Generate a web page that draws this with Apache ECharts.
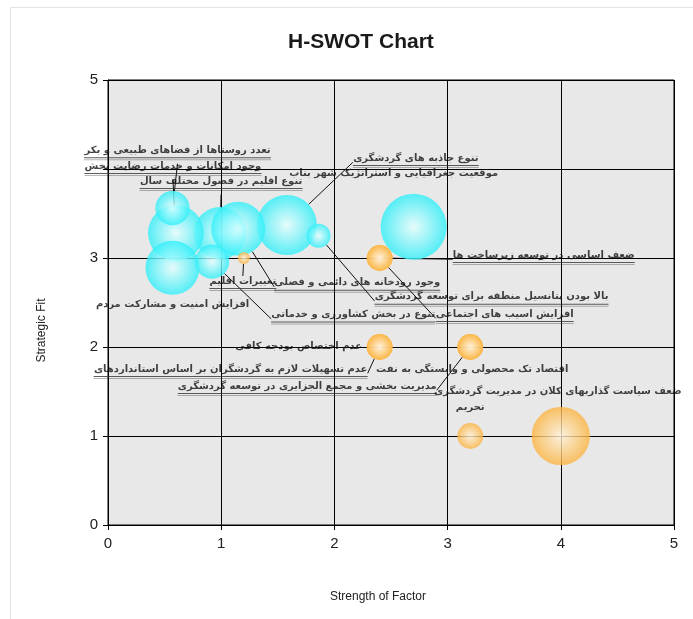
<!DOCTYPE html>
<html>
<head>
<meta charset="utf-8">
<title>H-SWOT Chart</title>
<script src="https://cdn.jsdelivr.net/npm/echarts@6/dist/echarts.min.js"></script>
<style>
html, body { margin: 0; padding: 0; background: #fff; }
#chart { width: 693px; height: 619px; }
</style>
</head>
<body>
<div id="chart"></div>
<script>
// نقاط قوت و فرصت ها (حباب های آبی)
var strengthNames = [
    'موقعیت جغرافیایی و استراتژیک شهر بناب',
    'تنوع جاذبه های گردشگری',
    'تنوع اقلیم در فصول مختلف سال',
    'وجود امکانات و خدمات رضایت بخش',
    'تعدد روستاها از فضاهای طبیعی و بکر',
    'افزایش امنیت و مشارکت مردم',
    'تنوع در بخش کشاورزی و خدماتی',
    'بالا بودن پتانسیل منطقه برای توسعه گردشگری',
    'وجود رودخانه های دائمی و فصلی'
];
var strengthX = [2.7, 1.58, 0.99, 0.6, 0.57, 0.57, 0.92, 1.86, 1.15];
var strengthY = [3.35, 3.37, 3.28, 3.28, 3.56, 2.89, 2.96, 3.25, 3.33];
var strengthSize = [11, 10, 8.7, 9.3, 5.7, 9, 5.7, 4, 9];

// نقاط ضعف و تهدید ها (حباب های نارنجی)
var weakNames = [
    'ضعف اساسی در توسعه زیرساخت ها',
    'افزایش اسیب های اجتماعی',
    'تغییرات اقلیم',
    'عدم اختصاص بودجه کافی',
    'عدم تسهیلات لازم به گردشگران بر اساس استانداردهای',
    'اقتصاد تک محصولی و وابستگی به نفت',
    'مدیریت بخشی و مجمع الجزایری در توسعه گردشگری',
    'تحریم',
    'ضعف سیاست گذاریهای کلان در مدیریت گردشگری'
];
var weakX = [2.4, 2.4, 1.2, 2.4, 2.4, 3.2, 3.2, 3.2, 4];
var weakY = [3, 3, 3, 2, 2, 2, 2, 1, 1];
var weakSize = [4.3, 4.3, 2, 4.3, 4.3, 4.3, 4.3, 4.3, 9.7];

var xTicks = ['0', '1', '2', '3', '4', '5'];
var yTicks = ['0', '1', '2', '3', '', '5'];

// جای برچسب ها نسبت به حباب (پیکسل) و خط راهنما
var strengthLabelOffset = [[-20, -53], [129, -66], [1, -51], [-3, -66], [5, -57], [0, 37], [141, 54], [173, 62], [119, 55]];
var strengthLabelLine = [false, true, true, true, true, false, true, true, true];
var weakLabelOffset = [[164, -2], [125, 57], [-1, 24], [-81, -1], [-149, 23], [2, 22], [-163, 40], [0, -29], [-3, -45]];
var weakLabelLine = [true, true, true, false, true, false, true, false, false];

var labelFont = 'bold 10px "DejaVu Sans"';
var measureCtx = document.createElement('canvas').getContext('2d');
measureCtx.font = labelFont;

function buildData(names, xs, ys, sizes, lines) {
    return names.map(function (n, i) {
        var w = Math.ceil(measureCtx.measureText(n).width);
        return {
            name: n,
            value: [xs[i], ys[i], sizes[i]],
            labelLine: { show: lines[i] },
            label: {
                formatter: lines[i] ? '{t|' + n + '}\n{u|}' : '{t|' + n + '}',
                rich: {
                    t: {
                        fontFamily: 'DejaVu Sans',
                        fontWeight: 'bold',
                        fontSize: 10,
                        color: '#111',
                        lineHeight: 13
                    },
                    u: {
                        width: w,
                        height: 1,
                        lineHeight: 2,
                        backgroundColor: '#333',
                        shadowColor: 'rgba(0,0,0,0.35)',
                        shadowOffsetY: 2
                    }
                }
            }
        };
    });
}

var dom = document.getElementById('chart');
var myChart = echarts.init(dom, null, {
    renderer: 'canvas',
    useDirtyRect: false
});

var option = {
    animation: false,
    title: {
        text: 'H-SWOT Chart',
        left: 283,
        top: 27,
        textStyle: {
            fontFamily: 'Liberation Sans',
            fontSize: 21,
            fontWeight: 'bold',
            color: '#1a1a1a'
        }
    },
    graphic: [{
        type: 'rect',
        shape: { x: 10.5, y: 7.5, width: 700, height: 700 },
        style: { fill: 'none', stroke: '#e4e4e4', lineWidth: 1 },
        silent: true
    }],
    grid: {
        left: 108,
        right: 19,
        top: 80,
        bottom: 94,
        show: true,
        backgroundColor: '#e8e8e8',
        borderColor: '#000',
        borderWidth: 1
    },
    xAxis: {
        type: 'value',
        min: 0,
        max: 5,
        interval: 1,
        name: 'Strength of Factor',
        nameLocation: 'middle',
        nameGap: 66,
        nameTextStyle: { fontFamily: 'Liberation Sans', fontSize: 12, color: '#222', padding: [0, 26, 0, 0] },
        axisLine: { lineStyle: { color: '#000' } },
        axisTick: { length: 5, lineStyle: { color: '#000' } },
        axisLabel: {
            margin: 11,
            fontFamily: 'Liberation Sans',
            fontSize: 15,
            color: '#222',
            formatter: function (v) { return xTicks[Math.round(v)]; }
        },
        splitLine: { show: true, lineStyle: { color: '#000' } }
    },
    yAxis: {
        type: 'value',
        min: 0,
        max: 5,
        interval: 1,
        name: 'Strategic Fit',
        nameLocation: 'middle',
        nameGap: 60,
        nameTextStyle: { fontFamily: 'Liberation Sans', fontSize: 12, color: '#222', padding: [0, 56, 0, 0] },
        axisLine: { lineStyle: { color: '#000' } },
        axisTick: { length: 5, lineStyle: { color: '#000' } },
        axisLabel: {
            margin: 10,
            fontFamily: 'Liberation Sans',
            fontSize: 15,
            color: '#222',
            formatter: function (v) { return yTicks[Math.round(v)]; }
        },
        splitLine: { show: true, lineStyle: { color: '#000' } }
    },
    series: [
        {
            name: 'Strengths',
            type: 'scatter',
            symbolSize: function (v) { return v[2] * 6; },
            itemStyle: {
                color: {
                    type: 'radial', x: 0.5, y: 0.5, r: 0.5,
                    colorStops: [
                        { offset: 0, color: '#e6ffff' },
                        { offset: 1, color: '#30eff9' }
                    ]
                }
            },
            label: { show: true, position: 'inside' },
            labelLine: { show: true, lineStyle: { color: '#111', width: 1 } },
            labelLayout: function (p) {
                var o = strengthLabelOffset[p.dataIndex];
                return { dx: o[0], dy: o[1] };
            },
            emphasis: { disabled: true },
            data: buildData(strengthNames, strengthX, strengthY, strengthSize, strengthLabelLine)
        },
        {
            name: 'Weaknesses',
            type: 'scatter',
            symbolSize: function (v) { return v[2] * 6; },
            itemStyle: {
                color: {
                    type: 'radial', x: 0.5, y: 0.5, r: 0.5,
                    colorStops: [
                        { offset: 0, color: '#fff3dc' },
                        { offset: 1, color: '#fcb440' }
                    ]
                }
            },
            label: { show: true, position: 'inside' },
            labelLine: { show: true, lineStyle: { color: '#111', width: 1 } },
            labelLayout: function (p) {
                var o = weakLabelOffset[p.dataIndex];
                return { dx: o[0], dy: o[1] };
            },
            emphasis: { disabled: true },
            data: buildData(weakNames, weakX, weakY, weakSize, weakLabelLine)
        }
    ]
};

if (option && typeof option === 'object') {
    myChart.setOption(option);
}

window.addEventListener('resize', myChart.resize);
</script>
</body>
</html>
